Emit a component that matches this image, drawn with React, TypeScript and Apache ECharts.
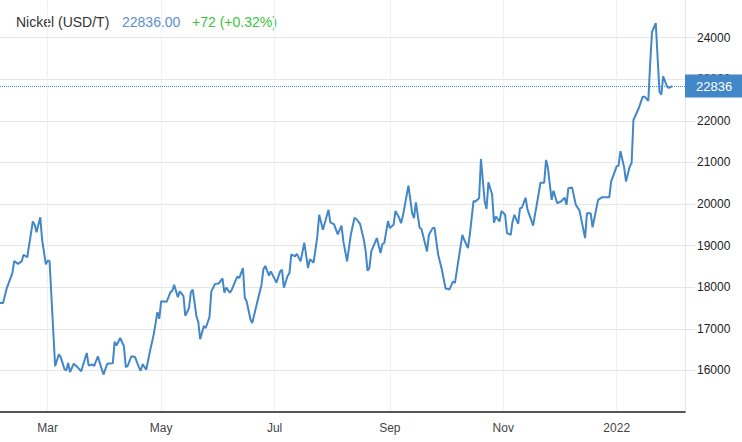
import React, { useEffect, useRef } from "react";
import * as echarts from "echarts";

const dates: string[] = [
  "2021-02-03","2021-02-05","2021-02-07","2021-02-08","2021-02-10","2021-02-11","2021-02-13","2021-02-15","2021-02-16","2021-02-18",
  "2021-02-21","2021-02-22","2021-02-23","2021-02-25","2021-02-26","2021-02-28","2021-03-01","2021-03-02","2021-03-05","2021-03-07",
  "2021-03-08","2021-03-10","2021-03-11","2021-03-12","2021-03-13","2021-03-15","2021-03-17","2021-03-19","2021-03-22","2021-03-23",
  "2021-03-25","2021-03-26","2021-03-28","2021-03-29","2021-03-31","2021-04-02","2021-04-05","2021-04-06","2021-04-07","2021-04-09",
  "2021-04-11","2021-04-12","2021-04-13","2021-04-15","2021-04-17","2021-04-19","2021-04-20","2021-04-21","2021-04-23","2021-04-25",
  "2021-04-27","2021-04-29","2021-04-30","2021-05-01","2021-05-04","2021-05-06","2021-05-07","2021-05-08","2021-05-10","2021-05-11",
  "2021-05-13","2021-05-14","2021-05-16","2021-05-17","2021-05-18","2021-05-20","2021-05-21","2021-05-22","2021-05-24","2021-05-25",
  "2021-05-27","2021-05-28","2021-05-30","2021-06-01","2021-06-03","2021-06-04","2021-06-05","2021-06-07","2021-06-08","2021-06-11",
  "2021-06-12","2021-06-14","2021-06-15","2021-06-16","2021-06-18","2021-06-19","2021-06-22","2021-06-24","2021-06-25","2021-06-26",
  "2021-06-28","2021-06-29","2021-07-02","2021-07-04","2021-07-05","2021-07-06","2021-07-08","2021-07-09","2021-07-10","2021-07-12",
  "2021-07-13","2021-07-15","2021-07-17","2021-07-19","2021-07-20","2021-07-22","2021-07-24","2021-07-25","2021-07-27","2021-07-30",
  "2021-07-31","2021-08-02","2021-08-04","2021-08-06","2021-08-07","2021-08-09","2021-08-10","2021-08-11","2021-08-13","2021-08-14",
  "2021-08-16","2021-08-18","2021-08-19","2021-08-20","2021-08-21","2021-08-22","2021-08-24","2021-08-25","2021-08-27","2021-08-28",
  "2021-08-29","2021-08-31","2021-09-01","2021-09-03","2021-09-04","2021-09-06","2021-09-07","2021-09-08","2021-09-10","2021-09-11",
  "2021-09-13","2021-09-14","2021-09-15","2021-09-17","2021-09-18","2021-09-21","2021-09-22","2021-09-24","2021-09-25","2021-09-27",
  "2021-09-29","2021-10-01","2021-10-02","2021-10-03","2021-10-05","2021-10-06","2021-10-10","2021-10-11","2021-10-13","2021-10-14",
  "2021-10-16","2021-10-17","2021-10-19","2021-10-20","2021-10-22","2021-10-23","2021-10-24","2021-10-26","2021-10-27","2021-10-28",
  "2021-10-30","2021-10-31","2021-11-02","2021-11-03","2021-11-05","2021-11-06","2021-11-07","2021-11-09","2021-11-10","2021-11-11",
  "2021-11-13","2021-11-14","2021-11-16","2021-11-17","2021-11-19","2021-11-21","2021-11-23","2021-11-24","2021-11-25","2021-11-27",
  "2021-11-28","2021-11-30","2021-12-02","2021-12-04","2021-12-05","2021-12-06","2021-12-08","2021-12-10","2021-12-12","2021-12-15",
  "2021-12-16","2021-12-18","2021-12-19","2021-12-22","2021-12-24","2021-12-28","2021-12-29","2022-01-01","2022-01-02","2022-01-03",
  "2022-01-05","2022-01-06","2022-01-08","2022-01-09","2022-01-10","2022-01-13","2022-01-15","2022-01-16","2022-01-18","2022-01-19",
  "2022-01-20","2022-01-22","2022-01-24","2022-01-25","2022-01-26","2022-01-28","2022-01-29","2022-01-31"
];

const prices: number[] = [
  17620,17620,17980,18100,18340,18630,18560,18620,18780,18720,
  19580,19500,19320,19680,19140,18550,18640,18630,16100,16390,
  16320,16030,16000,16180,15960,16160,16080,15980,16420,16120,
  16140,16110,16340,16180,15900,16160,16170,16690,16600,16780,
  16580,16080,16110,16340,16320,16080,15990,16150,16020,16460,
  16860,17400,17240,17660,17650,17880,17910,18060,17760,17900,
  17790,17310,17500,17880,17940,17300,17160,16750,17070,17020,
  17280,17900,18080,18090,18210,17870,17990,17870,17940,18260,
  18220,18460,17740,17660,17230,17140,17700,18060,18430,18510,
  18280,18380,18110,18380,18420,17990,18270,18340,18790,18740,
  18800,18620,19070,18460,18670,18590,19220,19740,19380,19860,
  19560,19510,19270,19480,19100,18620,18940,19260,19670,19640,
  19520,19140,18860,18400,18460,18860,19070,19180,18820,19040,
  19060,19590,19420,19500,19830,19670,19540,19710,20200,20440,
  19780,19660,20040,19430,19400,18860,19260,19420,19430,18780,
  18420,17960,17960,17940,18140,18100,19260,19140,18940,19260,
  20070,20060,20140,21080,20060,19880,20520,20230,19550,19700,
  19580,19830,19740,19300,19260,19580,19740,19520,19900,19910,
  20150,19870,19620,19480,19980,20510,20510,21060,20870,20100,
  20320,20020,20060,20150,19980,20380,20400,19980,19840,19180,
  19780,19780,19440,20100,20160,20160,20540,20910,20920,21270,
  20880,20540,20900,20980,22020,22320,22580,22580,22480,23380,
  24140,24350,22700,22630,23070,22830,22790,22836
];

const monthTicks: string[] = ["2021-03-01", "2021-05-01", "2021-07-01", "2021-09-01", "2021-11-01", "2022-01-01"];
const monthLabels: string[] = ["Mar", "May", "Jul", "Sep", "Nov", "2022"];

const lastPrice = 22836;
const titleName = "Nickel (USD/T)";
const titlePrice = "22836.00";
const titleChange = "+72 (+0.32%)";

const FONT = "'Liberation Sans', Arial, sans-serif";
const LINE_COLOR = "#4287c8";

function toTs(s: string): number {
  const [y, m, d] = s.split("-").map(Number);
  return new Date(y, m - 1, d).getTime();
}

export default function App() {
  const ref = useRef<HTMLDivElement>(null);

  useEffect(() => {
    if (!ref.current) return;
    const chart = echarts.init(ref.current, null, { renderer: "svg" });
    const tickValues = monthTicks.map(toTs);
    const labelFor = (v: number) => {
      const idx = tickValues.findIndex((t) => Math.abs(t - v) < 3600 * 1000 * 12);
      return idx >= 0 ? monthLabels[idx] : "";
    };
    const xMin = new Date(2021, 1, 3, 8, 24).getTime();
    const xMax = new Date(2022, 1, 6, 17, 30).getTime();

    chart.setOption({
      animation: false,
      textStyle: { fontFamily: FONT },
      grid: { left: 0, right: 57, top: 0, bottom: 30, containLabel: false },
      xAxis: {
        type: "value",
        min: xMin,
        max: xMax,
        axisLine: { show: true, onZero: false, lineStyle: { color: "#222", width: 1.5 } },
        axisTick: { show: false, customValues: tickValues },
        axisLabel: {
          customValues: tickValues,
          formatter: (v: number) => labelFor(v),
          color: "#444",
          fontSize: 12,
          fontFamily: FONT,
          margin: 10,
        },
        splitLine: { show: true, lineStyle: { color: "#edf1f6", width: 1 } },
      },
      yAxis: {
        type: "value",
        position: "right",
        min: 15000,
        max: 25000,
        interval: 1000,
        axisLine: { show: true, lineStyle: { color: "#e6e6e6" } },
        axisTick: { show: true, length: 10, lineStyle: { color: "#e6e6e6" } },
        axisLabel: {
          color: "#222",
          fontSize: 12,
          fontFamily: FONT,
          margin: 12,
          showMinLabel: false,
          showMaxLabel: false,
          formatter: (v: number) => String(v),
        },
        splitLine: { show: true, lineStyle: { color: "#e6e6e6", width: 1 } },
      },
      series: [
        {
          type: "line",
          data: dates.map((d, i) => [toTs(d), prices[i]]),
          showSymbol: false,
          lineStyle: { color: LINE_COLOR, width: 2 },
          itemStyle: { color: LINE_COLOR },
          z: 3,
          markLine: {
            silent: true,
            symbol: "none",
            lineStyle: { color: "#3d8fe0", type: [1, 1], width: 1, opacity: 1 },
            emphasis: { disabled: true },
            label: {
              show: true,
              position: "end",
              distance: 0,
              formatter: String(lastPrice),
              color: "#fff",
              backgroundColor: LINE_COLOR,
              padding: [4, 11, 4, 11],
              lineHeight: 15,
              fontSize: 13,
              fontFamily: FONT,
            },
            data: [{ yAxis: lastPrice }],
          },
        },
      ],
      graphic: [
        {
          type: "text",
          left: 16,
          top: 19,
          style: { text: titleName, fill: "#333", font: `14px ${FONT}` },
        },
        {
          type: "text",
          left: 122,
          top: 19,
          style: { text: titlePrice, fill: "#5a8fd2", font: `14px ${FONT}` },
        },
        {
          type: "text",
          left: 192,
          top: 19,
          style: { text: titleChange, fill: "#3cc43c", font: `14px ${FONT}` },
        },
      ],
    });
    return () => chart.dispose();
  }, []);

  return (
    <div
      ref={ref}
      style={{ position: "fixed", left: 0, top: -4, width: 742, height: 446, background: "#fff" }}
    />
  );
}
